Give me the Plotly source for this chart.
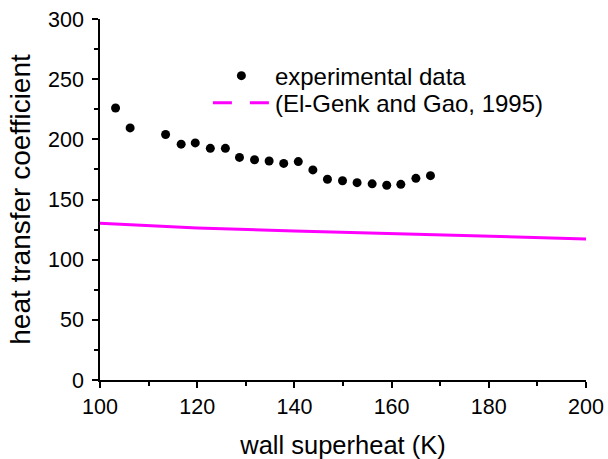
import plotly.graph_objects as go

# experimental data (wall superheat K, heat transfer coefficient)
exp_x = [103.2, 106.2, 113.5, 116.7, 119.6, 122.7, 125.8, 128.7, 131.8, 134.8,
         137.8, 140.8, 143.8, 146.8, 149.9, 152.9, 156.0, 159.0, 161.9, 165.0, 168.0]
exp_y = [226, 209.5, 204, 196, 197, 192.5, 192.5, 185, 183, 182,
         180, 181.5, 174.6, 166.8, 165.6, 164, 163, 161.8, 162.6, 167.6, 169.8]

# correlation (El-Genk and Gao, 1995)
corr_x = [100, 120, 140, 150, 160, 180, 200]
corr_y = [130.2, 126.4, 123.9, 122.7, 121.4, 119.2, 117.2]

font_family = "Liberation Sans, Arial, sans-serif"

fig = go.Figure()
fig.add_trace(go.Scatter(
    x=exp_x, y=exp_y, mode="markers", name="experimental data",
    marker=dict(color="black", size=9), legend="legend",
))
fig.add_trace(go.Scatter(
    x=corr_x, y=corr_y, mode="lines", name="(El-Genk and Gao, 1995)",
    line=dict(color="#FF00FF", width=3), showlegend=False,
))
fig.add_trace(go.Scatter(
    x=[None], y=[None], mode="lines", name="(El-Genk and Gao, 1995)",
    line=dict(color="#FF00FF", width=3, dash="19px,18px"), legend="legend2",
))

axis_common = dict(
    showline=True, linecolor="black", linewidth=1.5, mirror=False,
    ticks="outside", ticklen=6, tickwidth=1.5, tickcolor="black",
    showgrid=False, zeroline=False, automargin=False,
    tickfont=dict(family=font_family, size=21.5, color="black"),
)

legend_common = dict(
    xanchor="left", yanchor="middle",
    bgcolor="rgba(0,0,0,0)", borderwidth=0,
    font=dict(family=font_family, size=24, color="black"),
    itemwidth=57,
)

fig.update_layout(
    width=608, height=459,
    margin=dict(l=100, r=22, t=19, b=79),
    plot_bgcolor="white", paper_bgcolor="white",
    font=dict(family=font_family, color="black"),
    xaxis=dict(
        range=[100, 200], dtick=20, tick0=100,
        minor=dict(dtick=10, ticks="outside", ticklen=4, tickcolor="black", tickwidth=1.5),
        title=dict(text="wall superheat (K)", font=dict(size=25.5), standoff=19),
        **axis_common,
    ),
    yaxis=dict(
        range=[0, 300], dtick=50, tick0=0,
        minor=dict(dtick=25, ticks="outside", ticklen=4, tickcolor="black", tickwidth=1.5),
        title=dict(text="heat transfer coefficient" + "\u00a0" * 4,
                   font=dict(size=28), standoff=9),
        ticklabelstandoff=4,
        **axis_common,
    ),
    legend=dict(x=0.222, y=0.842, **legend_common),
    legend2=dict(x=0.222, y=0.767, **legend_common),
    showlegend=True,
)

fig.write_html("out.html", config={"displayModeBar": False},
               post_script="document.body.style.margin='0px';")
